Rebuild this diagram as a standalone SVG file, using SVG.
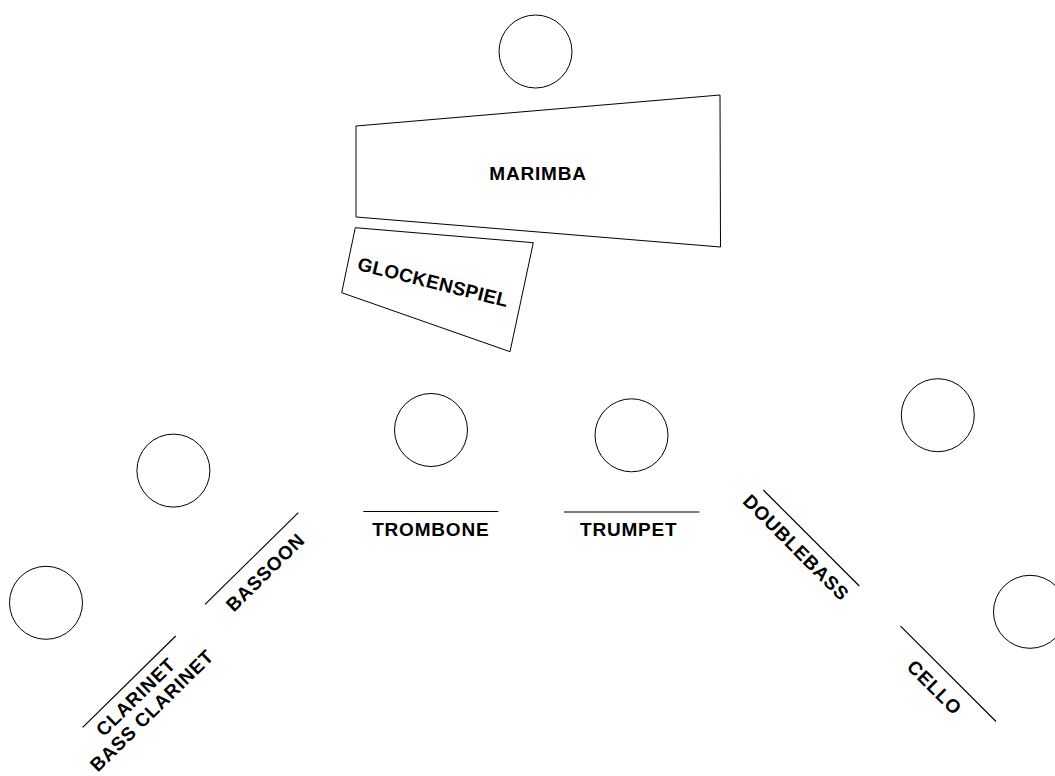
<svg xmlns="http://www.w3.org/2000/svg" width="1055" height="776" viewBox="0 0 1055 776">
<style>
.shape{fill:#fff;stroke:#000;stroke-width:1}
.seat{fill:#fff;stroke:#000;stroke-width:1}
.desk{stroke:#000;stroke-width:1.2;fill:none}
.lbl{font-family:"Liberation Sans",Arial,sans-serif;font-weight:bold;font-size:19px;fill:#000;text-anchor:middle;letter-spacing:0.8px}
</style>
<rect width="1055" height="776" fill="#fff"/>
<g id="conductor"><circle class="seat" cx="535.5" cy="51.5" r="36.5"/></g>
<g id="marimba">
<polygon class="shape" points="356,126 720,95 720.5,247 356,217"/>
<text class="lbl" x="538" y="179.5">MARIMBA</text>
</g>
<g id="glockenspiel">
<polygon class="shape" points="355.3,227.7 533.3,242.7 510,351.7 341.7,292.7"/>
<text class="lbl" transform="translate(433.3,281.7) rotate(14)" x="0" y="7" style="letter-spacing:0.4px">GLOCKENSPIEL</text>
</g>
<g id="seat-trombone"><circle class="seat" cx="431" cy="430" r="36.5"/></g>
<g id="seat-trumpet"><circle class="seat" cx="631.5" cy="435.3" r="36.5"/></g>
<g id="seat-bassoon"><circle class="seat" cx="173.4" cy="470.6" r="36.5"/></g>
<g id="seat-clarinet"><circle class="seat" cx="46" cy="602.8" r="36.5"/></g>
<g id="seat-doublebass"><circle class="seat" cx="937.8" cy="415.2" r="36.5"/></g>
<g id="seat-cello"><circle class="seat" cx="1030" cy="611.8" r="36.5"/></g>
<g id="trombone" transform="translate(430.8,511.5)">
<line class="desk" x1="-67.5" y1="0" x2="67.5" y2="0"/>
<text class="lbl" x="0" y="24">TROMBONE</text>
</g>
<g id="trumpet" transform="translate(631.7,512)">
<line class="desk" x1="-67.7" y1="0" x2="67.7" y2="0"/>
<text class="lbl" x="-3" y="24">TRUMPET</text>
</g>
<g id="bassoon" transform="translate(251.7,558.5) rotate(-44.5)">
<line class="desk" x1="-65.4" y1="0" x2="65.4" y2="0"/>
<text class="lbl" x="0" y="26">BASSOON</text>
</g>
<g id="clarinet" transform="translate(129.2,681.7) rotate(-44.5)">
<line class="desk" x1="-65.2" y1="0" x2="65.2" y2="0"/>
<text class="lbl" x="-6" y="22">CLARINET</text>
<text class="lbl" x="-4" y="43">BASS CLARINET</text>
</g>
<g id="doublebass" transform="translate(811.3,538) rotate(45)">
<line class="desk" x1="-67.9" y1="0" x2="67.9" y2="0"/>
<text class="lbl" x="-4" y="24">DOUBLEBASS</text>
</g>
<g id="cello" transform="translate(948.3,673.8) rotate(45)">
<line class="desk" x1="-67.5" y1="0" x2="67.5" y2="0"/>
<text class="lbl" x="0" y="26">CELLO</text>
</g>
</svg>
